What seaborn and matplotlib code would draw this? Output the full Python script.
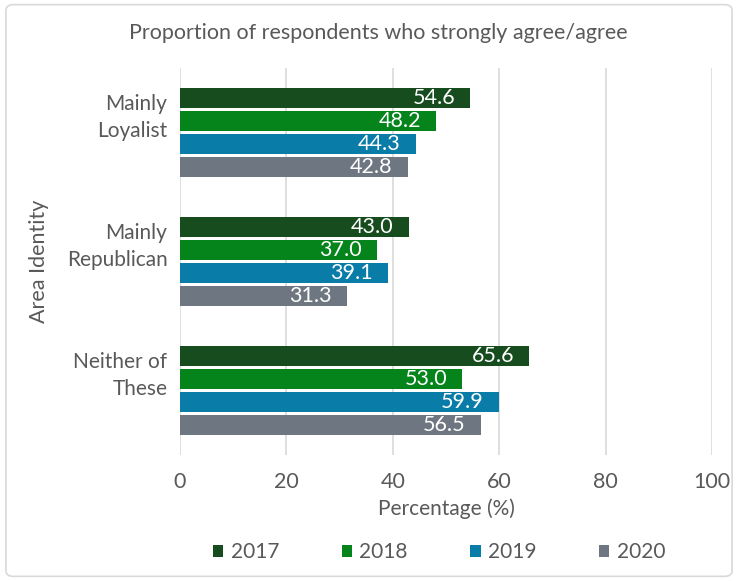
import matplotlib
matplotlib.use("Agg")
import matplotlib.pyplot as plt
from matplotlib.patches import FancyBboxPatch
from matplotlib.transforms import ScaledTranslation
import seaborn as sns
import pandas as pd

# Survey results: share who strongly agree/agree, by area identity and year
areas = ["Mainly\nLoyalist", "Mainly\nRepublican", "Neither of\nThese"]
years = ["2017", "2018", "2019", "2020"]
values_2017 = [54.6, 43.0, 65.6]
values_2018 = [48.2, 37.0, 53.0]
values_2019 = [44.3, 39.1, 59.9]
values_2020 = [42.8, 31.3, 56.5]
x_ticks = [0, 20, 40, 60, 80, 100]

colors = ["#174c1f", "#04841b", "#097ca8", "#6e7781"]
text_gray = "#595959"

series = [values_2017, values_2018, values_2019, values_2020]
rows = []
for year, vals in zip(years, series):
    for area, v in zip(areas, vals):
        rows.append({"Area": area, "Year": year, "Value": v})
df = pd.DataFrame(rows)

sns.set_theme(style="white")
plt.rcParams["font.family"] = ["Lato", "DejaVu Sans"]

fig = plt.figure(figsize=(7.38, 5.81), dpi=100)
ax = fig.add_axes([0.2439, 0.2169, 0.7209, 0.6661])

sns.barplot(data=df, y="Area", x="Value", hue="Year", order=areas,
            hue_order=years, palette=colors, orient="h", width=0.713,
            gap=0.09, saturation=1, linewidth=0, ax=ax, legend=True)

# value labels just inside the end of each bar
for cont in ax.containers:
    for patch, v in zip(cont.patches, cont.datavalues):
        ax.annotate(f"{v:.1f}", xy=(v, patch.get_y() + patch.get_height() / 2),
                    xytext=(-15, 0), textcoords="offset pixels",
                    ha="right", va="center", color="white", fontsize=15.5)

ax.set_xlim(0, 100)
ax.set_ylim(2.5, -0.5)
ax.set_xticks(x_ticks)
ax.set_xticklabels([str(t) for t in x_ticks])
ax.xaxis.grid(True, color="#d9d9d9", linewidth=1.2)
ax.set_axisbelow(True)
for s in ax.spines.values():
    s.set_visible(False)
ax.tick_params(axis="x", labelsize=15.5, labelcolor=text_gray, length=0, pad=12)
ax.tick_params(axis="y", labelsize=15, labelcolor=text_gray, length=0, pad=9)
lift = ScaledTranslation(0, 0.20, fig.dpi_scale_trans)
for lbl in ax.get_yticklabels():
    lbl.set_horizontalalignment("right")
    lbl.set_multialignment("right")
    lbl.set_linespacing(1.4)
    lbl.set_transform(lbl.get_transform() + lift)
ax.set_xlabel("Percentage (%)", fontsize=15, color=text_gray, labelpad=5)
ax.set_ylabel("Area Identity", fontsize=15.5, color=text_gray)
ax.yaxis.set_label_coords(-0.247, 0.5)

ax.legend(loc="center left", bbox_to_anchor=(213 / 738, 1 - 552 / 581),
          bbox_transform=fig.transFigure, ncol=4, frameon=False,
          fontsize=15, handlelength=0.5, handleheight=0.5,
          handletextpad=0.35, columnspacing=3.0, borderpad=0,
          borderaxespad=0, labelcolor=text_gray)

fig.text(378 / 738, 1 - 33 / 581,
         "Proportion of respondents who strongly agree/agree",
         ha="center", va="center", fontsize=15.5, color=text_gray)

border = FancyBboxPatch((0.008, 0.008), 0.984, 0.984,
                        boxstyle="round,pad=0,rounding_size=0.01",
                        transform=fig.transFigure, facecolor="none",
                        edgecolor="#d9d9d9", linewidth=1.2)
fig.patches.append(border)

fig.savefig("out.png", dpi=100, facecolor="white")
